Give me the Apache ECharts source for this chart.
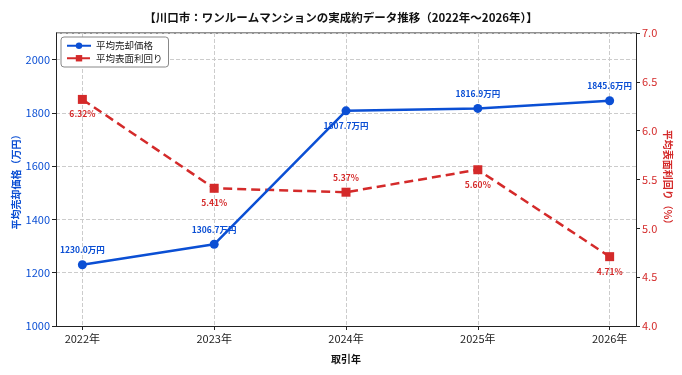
<!DOCTYPE html>
<html lang="ja">
  <head>
    <meta charset="UTF-8" />
    <title>川口市 ワンルームマンション</title>
    <style>
      body {
        margin: 0;
        background: #fff;
      }
      #main {
        width: 682px;
        height: 375px;
      }
    </style>
  </head>
  <body>
    <div id="main"></div>
    <script src="https://cdn.jsdelivr.net/npm/echarts@6/dist/echarts.min.js"></script>
    <script>
      const years = ["2022年", "2023年", "2024年", "2025年", "2026年"];
      const prices = [1230.0, 1306.7, 1807.7, 1816.9, 1845.6];
      const yields = [6.32, 5.41, 5.37, 5.6, 4.71];
      // ラベルの上下位置
      const priceLabelPos = ["top", "top", "bottom", "top", "top"];
      const yieldLabelPos = ["bottom", "bottom", "top", "bottom", "bottom"];

      const BLUE = "#0b4fd4";
      const RED = "#d42a2a";
      const FONT = "Noto Sans CJK JP";

      const myChart = echarts.init(document.getElementById("main"));

      const option = {
        textStyle: { fontFamily: FONT },
        title: {
          text: "【川口市：ワンルームマンションの実成約データ推移（2022年～2026年）】",
          left: "center",
          top: 7,
          textStyle: { fontFamily: FONT, fontSize: 11.5, fontWeight: "bold", color: "#111" },
        },
        legend: {
          left: 61,
          top: 37,
          orient: "vertical",
          itemGap: 3,
          itemWidth: 24,
          itemHeight: 8,
          padding: [4, 6, 4, 5],
          borderColor: "#888",
          borderWidth: 1,
          borderRadius: 3,
          backgroundColor: "#fff",
          textStyle: { fontFamily: FONT, fontSize: 9.5, color: "#222" },
          data: ["平均売却価格", "平均表面利回り"],
        },
        grid: { left: 56, right: 46, top: 33, bottom: 49, outerBoundsMode: "none" },
        xAxis: {
          type: "value",
          min: -0.2,
          max: 4.2,
          name: "取引年",
          nameLocation: "middle",
          nameGap: 28,
          nameMoveOverlap: false,
          nameTextStyle: { fontFamily: FONT, fontSize: 10, fontWeight: "bold", color: "#111" },
          axisLine: { onZero: false, lineStyle: { color: "#222" } },
          axisTick: { customValues: [0, 1, 2, 3, 4], length: 4, lineStyle: { color: "#222" } },
          axisLabel: {
            customValues: [0, 1, 2, 3, 4],
            fontSize: 11,
            color: "#222",
            margin: 7,
            formatter: (v) => years[Math.round(v)],
          },
          splitLine: { show: true, lineStyle: { color: "#ccc", type: "dashed" } },
        },
        yAxis: [
          {
            type: "value",
            min: 1000,
            max: 2100,
            interval: 200,
            name: "平均売却価格（万円）",
            nameLocation: "middle",
            nameGap: 35,
            nameMoveOverlap: false,
            nameTextStyle: { fontFamily: FONT, fontSize: 10, fontWeight: "bold", color: BLUE },
            axisLine: { show: true, onZero: false, lineStyle: { color: "#222" } },
            axisTick: { show: true, length: 4, lineStyle: { color: "#222" } },
            axisLabel: {
              fontSize: 11,
              color: BLUE,
              margin: 6,
              showMaxLabel: false,
              formatter: (v) => String(v),
            },
            splitLine: { lineStyle: { color: "#ccc", type: "dashed" } },
          },
          {
            type: "value",
            min: 4.0,
            max: 7.0,
            interval: 0.5,
            name: "平均表面利回り（%）",
            nameLocation: "middle",
            nameRotate: 270,
            nameGap: 27,
            nameMoveOverlap: false,
            nameTextStyle: { fontFamily: FONT, fontSize: 10, fontWeight: "bold", color: RED },
            axisLine: { show: true, onZero: false, lineStyle: { color: "#222" } },
            axisTick: { show: true, length: 4, lineStyle: { color: "#222" } },
            axisLabel: { fontSize: 11, color: RED, margin: 6, formatter: (v) => v.toFixed(1) },
            splitLine: { show: false },
          },
        ],
        series: [
          {
            name: "平均売却価格",
            type: "line",
            yAxisIndex: 0,
            symbol: "circle",
            symbolSize: 9,
            color: BLUE,
            lineStyle: { width: 2.5 },
            data: prices.map((v, i) => ({
              value: [i, v],
              label: { position: priceLabelPos[i] },
            })),
            label: {
              show: true,
              distance: 6,
              fontSize: 8.5,
              fontWeight: "bold",
              color: BLUE,
              formatter: (p) => p.value[1].toFixed(1) + "万円",
            },
            z: 3,
          },
          {
            name: "平均表面利回り",
            type: "line",
            yAxisIndex: 1,
            symbol: "rect",
            symbolSize: 9,
            color: RED,
            lineStyle: { width: 2.5, type: [9, 5] },
            data: yields.map((v, i) => ({
              value: [i, v],
              label: { position: yieldLabelPos[i] },
            })),
            label: {
              show: true,
              distance: 6,
              fontSize: 8.5,
              fontWeight: "bold",
              color: RED,
              formatter: (p) => p.value[1].toFixed(2) + "%",
            },
            z: 2,
          },
        ],
        graphic: [
          {
            // 上枠線
            type: "line",
            shape: { x1: 56, y1: 33, x2: 636, y2: 33 },
            style: { stroke: "#222", lineWidth: 1 },
          },
        ],
      };
      myChart.setOption(option);
    </script>
  </body>
</html>
